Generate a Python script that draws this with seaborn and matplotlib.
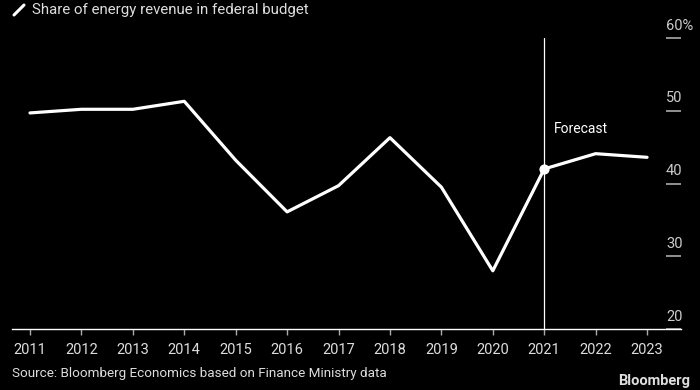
import matplotlib
matplotlib.use("Agg")
import matplotlib.pyplot as plt
import matplotlib.transforms as mtransforms
import seaborn as sns
import pandas as pd

years = [2011, 2012, 2013, 2014, 2015, 2016, 2017, 2018, 2019, 2020, 2021, 2022, 2023]
share = [49.7, 50.2, 50.2, 51.3, 43.2, 36.1, 39.7, 46.3, 39.5, 28.0, 42.0, 44.1, 43.6]
y_ticks = [20, 30, 40, 50, 60]
y_labels = ["20", "30", "40", "50", "60%"]
forecast_year = 2021

sns.set_theme(style="dark")
plt.rcParams['font.family'] = ['Liberation Sans Narrow', 'Roboto', 'DejaVu Sans']

df = pd.DataFrame({"year": years, "share": share})

fig = plt.figure(figsize=(7, 3.9), dpi=100, facecolor="black")
ax = fig.add_axes([12/700, 1 - 329/390, (681 - 12)/700, (329 - 38)/390])
ax.set_facecolor("black")

sns.lineplot(data=df, x="year", y="share", ax=ax, color="white", linewidth=2.3)

fy = share[years.index(forecast_year)]
ax.axvline(forecast_year, ymin=0, ymax=1, color="white", linewidth=0.9, zorder=1)
ax.scatter([forecast_year], [fy], s=40, color="white", zorder=5)
ax.text(forecast_year + 0.18, 47.5, "Forecast", color="white", fontsize=10,
        family=['Roboto', 'DejaVu Sans'], va="center")

ax.set_xlim(2010.65, 2023.66)
ax.set_ylim(20, 60)
ax.set_xlabel("")
ax.set_ylabel("")
ax.grid(False)
for s in ["top", "right", "left"]:
    ax.spines[s].set_visible(False)
ax.spines["bottom"].set_color("white")
ax.spines["bottom"].set_linewidth(1)

ax.set_xticks(years)
ax.set_xticklabels([str(y) for y in years], color="#dddddd", fontsize=10.5)
ax.tick_params(axis="x", colors="#aaaaaa", length=4, width=1, direction="out", pad=6,
               labelcolor="#dddddd", bottom=True)
ax.set_yticks([])

# right-side y ticks and labels
trans = mtransforms.blended_transform_factory(ax.transAxes, ax.transData)
x0 = (666 - 12) / (681 - 12)
for v, lab in zip(y_ticks, y_labels):
    ax.plot([x0, 1.0], [v, v], transform=trans, color="#aaaaaa", linewidth=1.2,
            clip_on=False, solid_capstyle="butt")
    ax.text(x0, v + 1.7, lab, transform=trans, color="#cccccc", fontsize=10.5,
            ha="left", va="center")

fig.text(32/700, 1 - 10/390, "Share of energy revenue in federal budget", color="#dddddd",
         fontsize=10.8, family=['Roboto', 'DejaVu Sans'], va="center", ha="left")
fig.add_artist(plt.Line2D([14/700, 24/700], [1 - 15/390, 1 - 5/390], color="white",
                          linewidth=2.2, transform=fig.transFigure))

fig.text(12/700, 1 - 374/390, "Source: Bloomberg Economics based on Finance Ministry data",
         color="#dddddd", fontsize=9.7, va="center", ha="left")
fig.text(690/700, 1 - 381/390, "Bloomberg", color="#dddddd", fontsize=10.5,
         fontweight="bold", va="center", ha="right")

fig.savefig("out.png", dpi=100, facecolor="black")
